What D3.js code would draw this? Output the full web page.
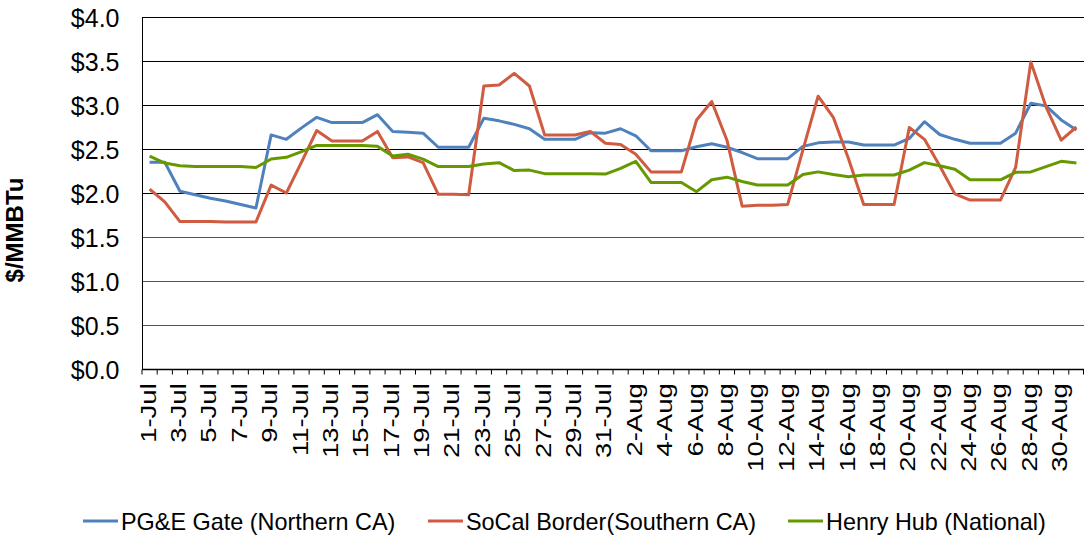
<!DOCTYPE html>
<html>
<head>
<meta charset="utf-8">
<script src="https://cdn.jsdelivr.net/npm/d3@7"></script>
<style>
  html, body { margin: 0; padding: 0; background: #fff; }
  svg { display: block; font-family: "Liberation Sans", Arial, sans-serif; }
</style>
</head>
<body>
<svg id="chart" width="1084" height="535"></svg>
<script>
const dates = [
  "1-Jul","2-Jul","3-Jul","4-Jul","5-Jul","6-Jul","7-Jul","8-Jul","9-Jul","10-Jul",
  "11-Jul","12-Jul","13-Jul","14-Jul","15-Jul","16-Jul","17-Jul","18-Jul","19-Jul","20-Jul",
  "21-Jul","22-Jul","23-Jul","24-Jul","25-Jul","26-Jul","27-Jul","28-Jul","29-Jul","30-Jul","31-Jul",
  "1-Aug","2-Aug","3-Aug","4-Aug","5-Aug","6-Aug","7-Aug","8-Aug","9-Aug","10-Aug",
  "11-Aug","12-Aug","13-Aug","14-Aug","15-Aug","16-Aug","17-Aug","18-Aug","19-Aug","20-Aug",
  "21-Aug","22-Aug","23-Aug","24-Aug","25-Aug","26-Aug","27-Aug","28-Aug","29-Aug","30-Aug","31-Aug"
];

const pgeGate = [2.35,2.35,2.02,1.98,1.94,1.91,1.87,1.83,2.66,2.61,2.74,2.86,2.80,2.80,2.80,2.89,2.70,2.69,2.68,2.52,2.52,
  2.52,2.85,2.82,2.78,2.73,2.61,2.61,2.61,2.685,2.68,2.73,2.65,
  2.48,2.48,2.48,2.525,2.56,2.52,2.46,2.39,2.39,
  2.39,2.53,2.57,2.58,2.58,2.545,2.545,2.545,2.62,2.81,2.665,2.61,2.565,2.565,2.565,2.68,3.02,2.99,2.83,2.715];

const socalBorder = [2.045,1.90,1.675,1.675,1.675,1.67,1.67,1.67,2.09,2.00,2.35,2.71,2.59,2.59,2.59,2.70,2.40,2.41,2.345,1.985,1.985,
  1.98,3.216,3.227,3.36,3.216,2.66,2.66,2.66,2.70,2.565,2.55,2.44,
  2.24,2.24,2.24,2.83,3.04,2.60,1.85,1.86,1.86,
  1.87,2.49,3.10,2.86,2.39,1.87,1.87,1.87,2.745,2.61,2.31,1.99,1.92,1.92,1.92,2.29,3.49,2.98,2.60,2.75];

const henryHub = [2.42,2.34,2.31,2.30,2.30,2.30,2.30,2.29,2.386,2.405,2.47,2.54,2.54,2.54,2.54,2.53,2.42,2.44,2.385,2.30,2.30,
  2.30,2.33,2.345,2.255,2.26,2.22,2.22,2.22,2.22,2.215,2.28,2.36,
  2.12,2.12,2.12,2.015,2.15,2.18,2.13,2.09,2.09,
  2.09,2.21,2.24,2.21,2.185,2.205,2.205,2.205,2.26,2.345,2.31,2.27,2.15,2.15,2.15,2.235,2.24,2.30,2.36,2.34];

const yTicks = [0, 0.5, 1.0, 1.5, 2.0, 2.5, 3.0, 3.5, 4.0];
const xTickLabels = dates.filter((d, i) => i % 2 === 0);

const seriesNames = ["PG&E Gate (Northern CA)", "SoCal Border(Southern CA)", "Henry Hub (National)"];
const seriesValues = [pgeGate, socalBorder, henryHub];
const seriesColors = ["#4f81bd", "#cf5b40", "#669900"];

const svg = d3.select("#chart");
const plotLeft = 142, plotRight = 1084, plotTop = 17, plotBottom = 369;

const x = d3.scaleBand().domain(dates).range([plotLeft, plotRight]).paddingInner(0).paddingOuter(0);
const y = d3.scaleLinear().domain([0, 4]).range([plotBottom, plotTop]);
const bw = x.bandwidth();

// gridlines
svg.append("g").selectAll("line").data(yTicks.filter(v => v > 0)).join("line")
  .attr("x1", plotLeft).attr("x2", plotRight)
  .attr("y1", d => Math.round(y(d)) + 0.5).attr("y2", d => Math.round(y(d)) + 0.5)
  .attr("stroke", d => d >= 2 ? "#000" : "#555").attr("stroke-width", 1);

// y axis
const yAxis = d3.axisLeft(y).tickValues(yTicks).tickSize(0).tickPadding(0)
  .tickFormat(d => "$" + d3.format(".1f")(d));
const gy = svg.append("g").attr("transform", `translate(${plotLeft + 0.5},0)`).call(yAxis);
gy.select(".domain").attr("stroke", "#000").attr("d", `M0,${plotTop}V${plotBottom}`);
gy.selectAll(".tick text")
  .attr("x", -23).attr("dy", null).attr("y", 9)
  .attr("font-size", 25).attr("fill", "#000")
  .attr("font-family", "'Liberation Sans', Arial, sans-serif");

// x axis
const xAxis = d3.axisBottom(x).tickValues(dates).tickSize(5).tickSizeOuter(0)
  .tickFormat(d => xTickLabels.includes(d) ? d : "");
const gx = svg.append("g").attr("transform", `translate(0,${plotBottom + 0.5})`).call(xAxis);
gx.select(".domain").attr("stroke", "#000").attr("stroke-width", 1.5).attr("d", `M${plotLeft},0H${plotRight}`);
gx.selectAll(".tick line").attr("x1", -bw / 2).attr("x2", -bw / 2).attr("stroke", "#000");
gx.append("line").attr("x1", plotRight - 0.5).attr("x2", plotRight - 0.5).attr("y1", 0).attr("y2", 5).attr("stroke", "#000");
gx.selectAll(".tick text")
  .attr("transform", "rotate(-90) scale(1.25,1)")
  .attr("text-anchor", "end")
  .attr("x", -11).attr("y", 0).attr("dy", 6)
  .attr("font-size", 22).attr("fill", "#000")
  .attr("font-family", "'Liberation Sans', Arial, sans-serif");

// y title
svg.append("text")
  .attr("transform", "translate(23,230) rotate(-90)")
  .attr("text-anchor", "middle")
  .attr("font-weight", "bold").attr("font-size", 24)
  .text("$/MMBTu");

// lines
const line = d3.line().x((d, i) => x(dates[i]) + bw / 2).y(d => y(d));
svg.append("g").selectAll("path").data(seriesValues).join("path")
  .attr("d", d => line(d))
  .attr("fill", "none")
  .attr("stroke", (d, i) => seriesColors[i])
  .attr("stroke-width", 3)
  .attr("stroke-linejoin", "round");

// legend
const legendX = [83, 428, 788];
const lg = svg.append("g").selectAll("g").data(seriesNames).join("g")
  .attr("transform", (d, i) => `translate(${legendX[i]},521)`);
lg.append("line").attr("x1", 0).attr("x2", 35).attr("y1", 0).attr("y2", 0)
  .attr("stroke", (d, i) => seriesColors[i]).attr("stroke-width", 3);
lg.append("text").attr("x", 38).attr("y", 9).attr("font-size", 23.4).text(d => d);
</script>
</body>
</html>
